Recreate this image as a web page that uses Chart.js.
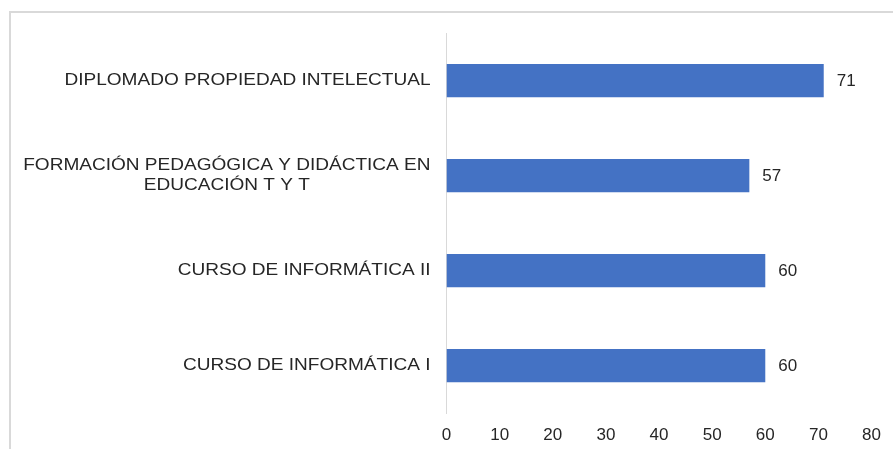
<!DOCTYPE html>
<html>
<head>
<meta charset="utf-8">
<script src="https://cdn.jsdelivr.net/npm/chart.js@4"></script>
<style>
  html, body { margin:0; padding:0; background:#fff; overflow:hidden; }
  #frame { position:absolute; left:9px; top:11px; width:1000px; height:600px; border-left:2px solid #d9d9d9; border-top:2px solid #d9d9d9; }
  #wrap { position:absolute; left:0; top:0; width:893px; height:449px; }
</style>
</head>
<body>
<div id="frame"></div>
<div id="wrap"><canvas id="c" width="893" height="449"></canvas></div>
<script>
const categories = [
  "DIPLOMADO PROPIEDAD INTELECTUAL",
  ["FORMACIÓN PEDAGÓGICA Y DIDÁCTICA EN", "EDUCACIÓN T Y T"],
  "CURSO DE INFORMÁTICA II",
  "CURSO DE INFORMÁTICA I"
];
const values = [71, 57, 60, 60];
const xTicks = [0, 10, 20, 30, 40, 50, 60, 70, 80];

const FONT = '"Liberation Sans", Arial, sans-serif';
const TEXT = '#262626';
const STRETCH = 1.12;

const valueLabels = {
  id: 'valueLabels',
  afterDatasetsDraw(chart) {
    const ctx = chart.ctx;
    const meta = chart.getDatasetMeta(0);
    ctx.save();
    ctx.font = '17px ' + FONT;
    ctx.fillStyle = TEXT;
    ctx.textAlign = 'left';
    ctx.textBaseline = 'middle';
    meta.data.forEach((bar, i) => {
      ctx.fillText(String(values[i]), bar.x + 13, bar.y + 1);
    });
    ctx.restore();
  }
};

const categoryLabels = {
  id: 'categoryLabels',
  afterDraw(chart) {
    const ys = chart.scales.y;
    const ctx = chart.ctx;
    ctx.save();
    ctx.font = '17px ' + FONT;
    ctx.fillStyle = TEXT;
    ctx.textBaseline = 'middle';
    ctx.textAlign = 'center';
    const right = chart.chartArea.left - 16;
    categories.forEach((lab, i) => {
      const y = ys.getPixelForTick(i);
      const lines = Array.isArray(lab) ? lab : [lab];
      const lh = 20;
      const maxW = Math.max(...lines.map(l => ctx.measureText(l).width)) * STRETCH;
      const top = y - (lines.length - 1) * lh / 2;
      lines.forEach((l, k) => {
        ctx.save();
        ctx.translate(right - maxW / 2, top + k * lh);
        ctx.scale(STRETCH, 1);
        ctx.fillText(l, 0, 0);
        ctx.restore();
      });
    });
    ctx.restore();
  }
};

new Chart(document.getElementById('c'), {
  type: 'bar',
  data: {
    labels: categories,
    datasets: [{
      data: values,
      backgroundColor: '#4472C4',
      borderWidth: 0,
      barPercentage: 0.35,
      categoryPercentage: 1.0
    }]
  },
  options: {
    indexAxis: 'y',
    responsive: false,
    animation: false,
    devicePixelRatio: 1,
    layout: { padding: { left: 10, right: 20, top: 33, bottom: 0 } },
    plugins: { legend: { display: false }, tooltip: { enabled: false } },
    scales: {
      x: {
        min: 0, max: 80,
        afterBuildTicks(s) { s.ticks = xTicks.map(v => ({ value: v })); },
        grid: { display: false, drawTicks: false },
        border: { display: false },
        ticks: { padding: 12, color: TEXT, font: { family: FONT, size: 17 } },
        afterFit(s) { s.height = 36; }
      },
      y: {
        grid: { display: false, drawTicks: false },
        border: { display: true, color: '#d9d9d9', width: 1 },
        ticks: { display: false },
        afterFit(s) { s.width = 436.5; }
      }
    }
  },
  plugins: [valueLabels, categoryLabels]
});
</script>
</body>
</html>
